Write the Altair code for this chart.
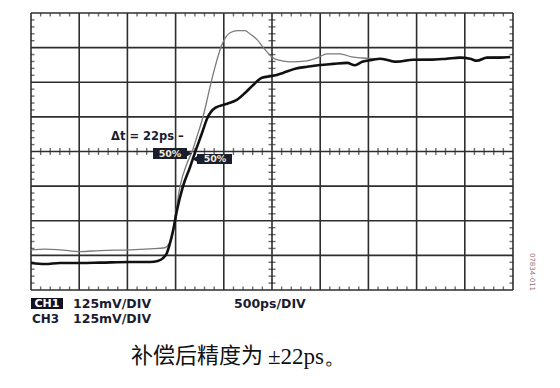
import altair as alt
import pandas as pd

# ---- data (x in divisions of 500 ps, y in divisions of 125 mV, from bottom edge) ----
ch1_x = [0, 0.29, 0.60, 1.02, 1.43, 2.05, 2.47, 2.63, 2.74, 2.82, 2.88, 2.95, 3.03, 3.15, 3.30, 3.40,
         3.55, 3.65, 3.82, 4.07, 4.27, 4.44, 4.61, 4.79, 5.00, 5.23, 5.48, 5.73, 6.00, 6.27, 6.56,
         6.72, 6.87, 7.10, 7.24, 7.45, 7.59, 7.93, 8.28, 8.63, 8.90, 9.11, 9.25, 9.46, 9.73, 9.94]
ch1_y = [0.78, 0.75, 0.78, 0.78, 0.79, 0.81, 0.81, 0.84, 0.92, 1.07, 1.33, 1.73, 2.31, 2.98, 3.55, 3.96,
         4.54, 4.94, 5.26, 5.38, 5.49, 5.69, 5.92, 6.13, 6.18, 6.27, 6.39, 6.45, 6.50, 6.53, 6.56,
         6.49, 6.59, 6.65, 6.68, 6.62, 6.59, 6.65, 6.65, 6.68, 6.71, 6.68, 6.62, 6.71, 6.71, 6.73]

ch3_x = [0, 0.29, 0.60, 1.02, 1.43, 2.05, 2.47, 2.78, 2.86, 2.93, 2.99, 3.09, 3.24, 3.34, 3.44, 3.55,
         3.63, 3.71, 3.82, 3.96, 4.13, 4.29, 4.44, 4.54, 4.69, 4.81, 5.00, 5.10, 5.37, 5.73, 5.95,
         6.14, 6.41, 6.66, 6.89, 7.10, 7.24, 7.59, 7.93, 8.63, 8.90, 9.25, 9.46, 9.94]
ch3_y = [1.16, 1.18, 1.16, 1.11, 1.14, 1.16, 1.19, 1.22, 1.33, 1.53, 2.11, 2.98, 3.67, 3.99, 4.42, 4.91,
         5.35, 5.84, 6.45, 7.08, 7.43, 7.49, 7.49, 7.40, 7.23, 7.02, 6.73, 6.65, 6.59, 6.62, 6.71,
         6.82, 6.82, 6.73, 6.70, 6.68, 6.68, 6.61, 6.66, 6.69, 6.72, 6.64, 6.72, 6.74]

major_x = list(range(11))
major_y = list(range(9))
minor_x = [i / 5 for i in range(51) if i % 5]
minor_y = [i / 5 for i in range(41) if i % 5]
tick_rows_y = [0, 4, 8]
tick_cols_x = [0, 5, 10]

channel_labels = ["CH1", "CH3"]
scale_labels = ["125mV/DIV", "125mV/DIV"]
time_label = "500ps/DIV"
delta_label = "Δt = 22ps –"
pct_label = "50%"
caption_cn = "补偿后精度为"
caption_tail = "±22ps。"
fig_id = "07834-011"

GRID = "#2e2e2e"
xs = alt.Scale(domain=[0, 10], nice=False, zero=False)
ys = alt.Scale(domain=[0, 8], nice=False, zero=False)
X = lambda f: alt.X(f, type="quantitative", scale=xs, axis=None)
Y = lambda f: alt.Y(f, type="quantitative", scale=ys, axis=None)

vgrid = alt.Chart(pd.DataFrame({"x": major_x})).mark_rule(color=GRID, strokeWidth=1.6).encode(x=X("x"))
hgrid = alt.Chart(pd.DataFrame({"y": major_y})).mark_rule(color=GRID, strokeWidth=1.6).encode(y=Y("y"))

ht = pd.DataFrame([(x, y) for y in tick_rows_y for x in minor_x], columns=["x", "y"])
vt = pd.DataFrame([(x, y) for x in tick_cols_x for y in minor_y], columns=["x", "y"])
hticks = alt.Chart(ht).mark_tick(orient="vertical", color=GRID, size=7, thickness=1.4, clip=True).encode(x=X("x"), y=Y("y"))
vticks = alt.Chart(vt).mark_tick(orient="horizontal", color=GRID, size=7, thickness=1.4, clip=True).encode(x=X("x"), y=Y("y"))

ch3 = alt.Chart(pd.DataFrame({"x": ch3_x, "y": ch3_y})).mark_line(
    color="#7a7a7a", strokeWidth=1.3, interpolate="monotone").encode(x=X("x"), y=Y("y"))
ch1 = alt.Chart(pd.DataFrame({"x": ch1_x, "y": ch1_y})).mark_line(
    color="#111111", strokeWidth=2.6, interpolate="monotone").encode(x=X("x"), y=Y("y"))


def txt(t, x, y, size=12, color="#1c1c30", weight="bold", font="DejaVu Sans", align="left", angle=0):
    kw = dict(align=align, baseline="middle", fontSize=size, fontWeight=weight, font=font, color=color)
    if angle:
        kw["angle"] = angle
    return alt.Chart(pd.DataFrame({"t": [t]})).mark_text(**kw).encode(
        text="t:N", x=alt.value(x), y=alt.value(y))


def box(x1, x2, y1, y2, color="#1a1e2c"):
    return alt.Chart(pd.DataFrame({"a": [0]})).mark_rect(color=color).encode(
        x=alt.value(x1), x2=alt.value(x2), y=alt.value(y1), y2=alt.value(y2))


def tri(x, y, shape, color="#1a1e2c"):
    return alt.Chart(pd.DataFrame({"a": [0]})).mark_point(
        shape=shape, filled=True, color=color, size=45, opacity=1).encode(x=alt.value(x), y=alt.value(y))


ann = [
    txt(delta_label, 80, 124, size=11.5),
    box(122, 156, 135, 146), tri(158, 140.5, "triangle-right"),
    txt(pct_label, 139, 140.5, size=9.5, color="#f2ecd8", align="center"),
    box(166, 201, 141, 151), tri(164, 146, "triangle-left"),
    txt(pct_label, 184, 146, size=9.5, color="#f2ecd8", align="center"),
    box(0, 32, 285, 296, color="#111122"),
    txt(channel_labels[0], 16, 290.5, size=11, color="#ffffff", align="center"),
    txt(scale_labels[0], 42, 290.5, size=12.5),
    txt(channel_labels[1], 1, 305.5, size=12),
    txt(scale_labels[1], 42, 305.5, size=12.5),
    txt(time_label, 203, 290.5, size=12.5),
    txt(caption_cn, 100, 343, size=22, color="#111111", weight="normal", font="Noto Sans CJK SC"),
    txt(caption_tail, 237, 344, size=23, color="#111111", weight="normal", font="Liberation Serif"),
    txt(fig_id, 501, 259, size=7, color="#9a6f80", weight="normal", align="center", angle=90),
]

chart = alt.layer(vgrid, hgrid, hticks, vticks, ch3, ch1, *ann).properties(
    width=482, height=277,
    padding={"left": 23, "top": 5, "right": 39, "bottom": 90},
    autosize=alt.AutoSizeParams(type="none"),
    background="white",
).configure_view(stroke=None)

chart.save("out.html", embed_options={"renderer": "svg", "actions": False})
